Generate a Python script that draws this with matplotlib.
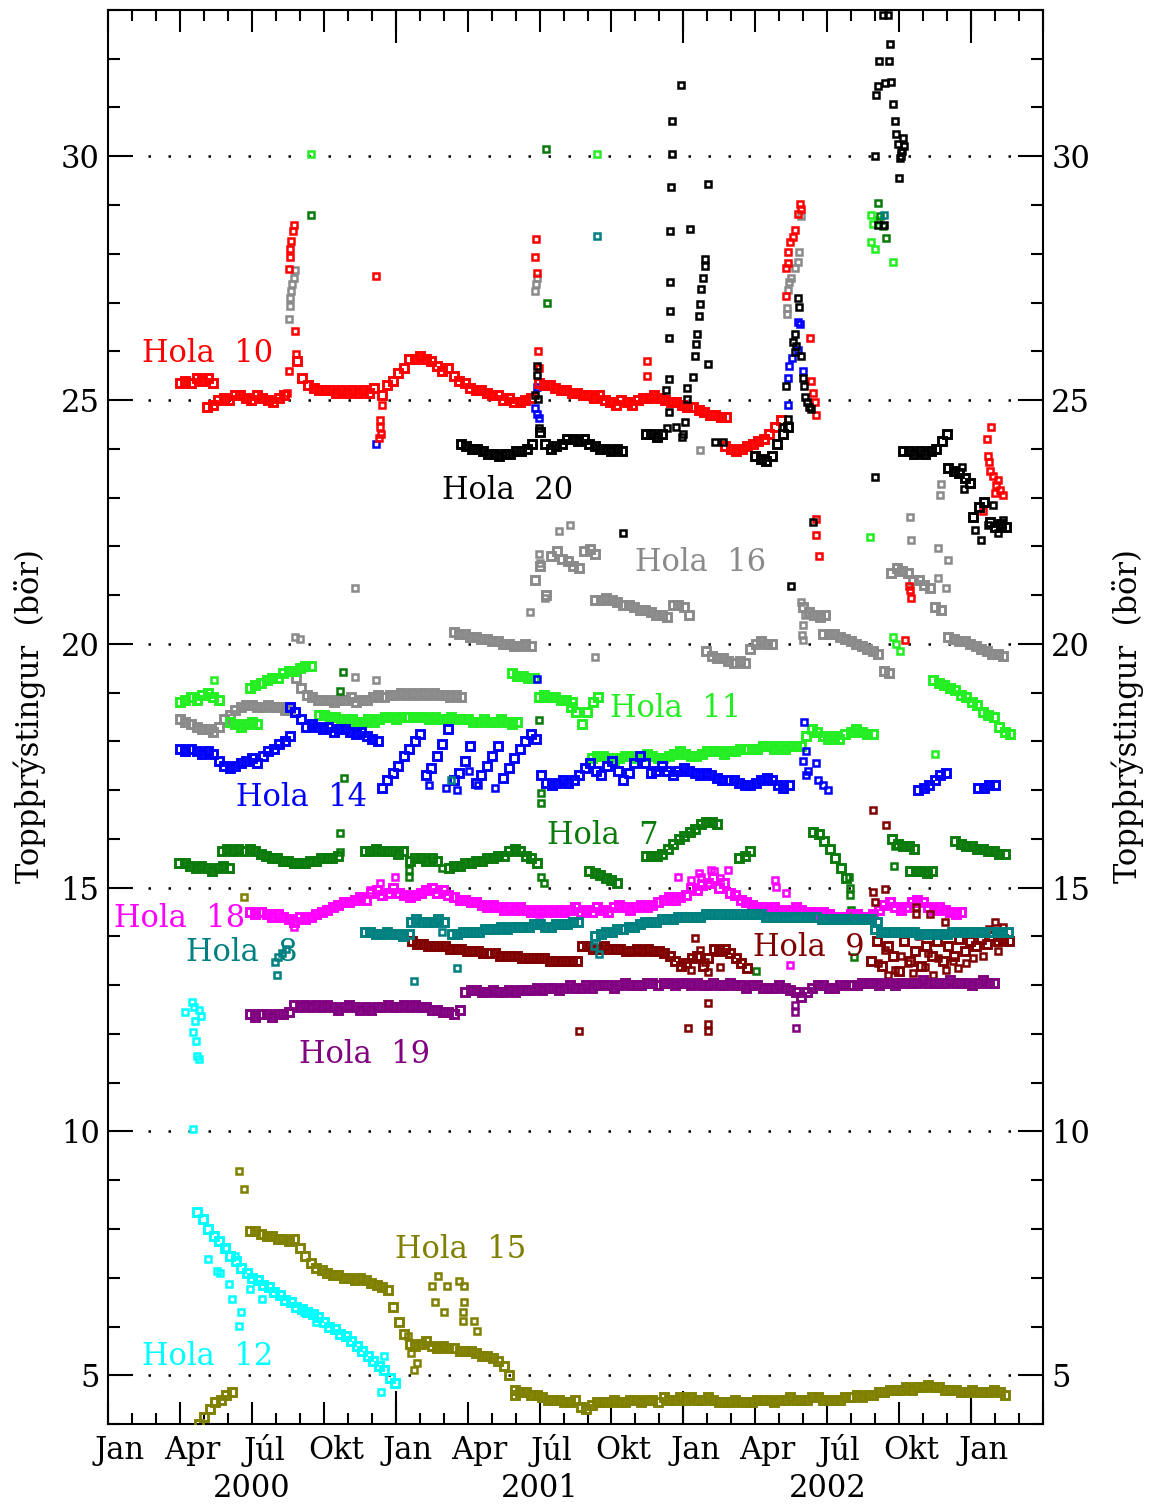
import numpy as np
import matplotlib.pyplot as plt
from matplotlib.ticker import MultipleLocator

plt.rcParams['font.family'] = 'DejaVu Serif'

# time axis: months since Jan 2000; weekly readings
WEEK = 0.23

# ---------------- Hola 10 ----------------
h10_runs = [
    (3.0, [25.35, 25.4, 25.35, 25.45, 25.4, 25.45, 25.35]),
    (4.13, [24.85, 24.9, 25.0, 25.05, 25.0, 25.1, 25.1, 25.05, 25.0, 25.1, 25.05, 25.0, 24.95, 25.05, 25.1]),
    (7.88, [25.8, 25.45, 25.3, 25.25, 25.2, 25.2, 25.2, 25.15, 25.2, 25.15, 25.2, 25.15, 25.2, 25.15, 25.25]),
    (11.42, [25.1, 25.3, 25.4, 25.55, 25.65, 25.85, 25.85, 25.9, 25.85, 25.8, 25.7, 25.6, 25.65, 25.5,
             25.4, 25.35, 25.25, 25.2, 25.2, 25.15, 25.1, 25.1, 25.0, 25.05, 24.95, 24.95, 25.0, 25.05]),
    (17.96, [25.35, 25.3, 25.3, 25.25, 25.2, 25.2, 25.15, 25.15, 25.1, 25.1, 25.05, 25.1, 25.0, 24.95,
             24.9, 25.0, 24.95, 24.9, 25.0, 25.05, 25.05, 25.1, 25.05, 25.0, 24.95, 24.95, 24.9, 24.85,
             24.85, 24.8, 24.75, 24.7, 24.7, 24.65, 24.65]),
    (25.75, [24.05, 24.0, 23.95, 24.0, 24.05, 24.1, 24.15, 24.2, 24.3, 24.45, 24.6]),
]
h10_t = [7.75, 7.71, 7.63, 7.58, 7.58, 7.54, 7.79, 7.83, 7.46, 7.54,
         11.33, 11.33, 11.38, 11.29, 11.42, 11.17,
         17.83, 17.79, 17.88, 17.92, 17.96, 22.46, 22.46,
         28.29, 28.29, 28.38, 28.46, 28.67, 28.79, 28.88, 28.92, 28.58, 28.38,
         29.29, 29.33, 29.42, 29.5, 29.54, 29.54, 29.54, 29.67,
         33.42, 33.5, 33.46, 33.25,
         36.83, 36.67, 36.71, 36.75, 36.79, 36.92, 37.04, 37.21, 37.33, 37.0, 37.13, 36.5]
h10_v = [28.59, 28.47, 28.26, 28.1, 27.93, 27.69, 26.42, 25.95, 25.15, 25.6,
         24.6, 24.45, 24.3, 24.23, 24.9, 27.55,
         28.3, 27.93, 27.6, 26.0, 25.65, 25.8, 25.5,
         27.13, 27.7, 28.04, 28.24, 28.49, 28.81, 29.02, 28.92, 28.35, 27.8,
         26.28, 25.38, 25.15, 24.95, 24.7, 22.57, 22.24, 21.8,
         21.18, 20.93, 21.1, 20.07,
         24.45, 24.2, 23.86, 23.72, 23.55, 23.45, 23.25, 23.15, 23.05, 23.1, 23.35, 22.73]

# ---------------- Hola 20 ----------------
h20_runs = [
    (14.71, [24.1, 24.05, 24.0, 24.0, 23.95, 23.9, 23.9, 23.85, 23.9, 23.9, 23.95, 23.95, 24.0, 24.1]),
    (18.0, [24.35, 24.1, 24.0, 24.05, 24.1, 24.2, 24.2, 24.15, 24.2, 24.1, 24.05, 24.0, 24.0, 23.95, 24.0, 23.95]),
    (22.42, [24.3, 24.3, 24.25, 24.3]),
    (27.0, [23.85, 23.8, 23.75, 23.85, 24.1, 24.3, 24.45]),
    (33.17, [23.95, 23.95, 23.9, 23.95, 23.9, 23.95, 24.0, 24.15, 24.3]),
    (35.04, [23.6, 23.55, 23.5, 23.4, 23.3]),
    (36.08, [22.6, 22.8, 22.9, 22.5, 22.4, 22.45, 22.4]),
]
h20_t = [17.88, 17.88, 17.79, 17.92, 17.96, 21.46,
         23.38, 23.29, 23.38, 23.38, 23.42, 23.42, 23.46, 23.5, 23.54, 23.54, 23.88, 24.29, 23.33,
         24.0, 24.08, 24.13, 24.17, 24.42, 24.5, 24.54, 24.58, 24.67, 24.71, 24.75, 24.83, 24.88,
         24.92, 25.04, 25.04, 25.33, 25.67, 23.71, 23.92,
         28.79, 28.83, 28.67, 28.58, 28.71, 28.67, 28.92, 29.0, 29.04, 29.08, 29.17, 29.25, 29.33,
         28.29, 28.38, 28.17, 29.42, 28.5,
         35.63, 35.71, 36.17, 36.42, 36.71, 36.92, 37.13, 37.33, 32.0,
         32.33, 32.54, 32.63, 32.17, 32.58, 32.04, 32.13, 32.42, 32.67, 32.75, 32.83, 32.88, 33.17,
         32.96, 33.08, 33.08, 33.04, 33.0, 32.0, 32.13, 32.38, 33.13, 33.21]
h20_v = [25.7, 25.52, 25.1, 25.03, 24.43, 22.27,
         25.44, 25.2, 24.75, 26.28, 26.82, 27.42, 28.47, 29.37, 30.04, 30.72, 31.47, 28.5, 24.42,
         24.3, 24.55, 25.03, 25.24, 25.48, 25.91, 26.15, 26.36, 26.72, 26.97, 27.27, 27.5, 27.75,
         27.9, 29.43, 25.74, 24.13, 24.13, 24.45, 24.25,
         27.1, 26.9, 26.36, 26.2, 26.1, 25.98, 25.9, 25.45, 25.28, 25.07, 24.95, 24.86, 24.82,
         25.28, 24.62, 24.45, 22.49, 21.18,
         23.63, 23.18, 22.33, 22.12, 22.43, 22.84, 22.28, 22.53, 23.43,
         32.89, 32.9, 32.3, 31.96, 31.96, 31.25, 31.45, 31.5, 31.53, 31.08, 30.73, 30.45, 30.37,
         30.25, 30.08, 30.0, 29.96, 29.55, 30.0, 28.59, 28.59, 30.1, 30.2]

# ---------------- Hola 16 ----------------
h16_runs = [
    (3.0, [18.45, 18.4, 18.35, 18.3, 18.25, 18.25, 18.2, 18.3, 18.45, 18.55, 18.65, 18.7, 18.75, 18.75,
           18.7, 18.7, 18.75, 18.7, 18.7, 18.65, 18.65, 19.3, 19.1, 18.95, 18.9, 18.85, 18.85, 18.85,
           18.8, 18.85, 18.85, 18.9, 18.8, 18.85, 18.85, 18.9, 18.95, 18.9, 18.95, 18.95, 19.0, 18.95,
           19.0, 18.95, 19.0, 18.95, 19.0, 18.95, 18.95, 18.9, 18.95, 18.9]),
    (14.42, [20.25, 20.2, 20.2, 20.15, 20.15, 20.1, 20.1, 20.05, 20.05, 20.0, 20.0, 19.95, 19.95, 20.0, 19.95]),
    (17.79, [21.3, 21.6, 21.0, 21.8, 21.9, 21.75, 21.7, 21.6, 21.55, 21.9, 21.95, 21.85]),
    (20.33, [20.9, 20.9, 20.95, 20.9, 20.85, 20.8, 20.8, 20.75, 20.7, 20.7, 20.65, 20.6, 20.6, 20.55,
             20.8, 20.8, 20.75, 20.6]),
    (24.96, [19.85, 19.75, 19.7, 19.7, 19.65, 19.6, 19.65, 19.6]),
    (26.79, [19.9, 20.0, 20.05, 20.0, 20.0]),
    (29.0, [20.75, 20.65, 20.6, 20.55, 20.6]),
    (29.83, [20.2, 20.2, 20.2, 20.15, 20.1, 20.05, 20.0, 19.95, 19.9, 19.85, 19.8, 19.45, 19.4]),
    (32.67, [21.45, 21.55, 21.5, 21.45, 21.3, 21.3, 21.2, 21.15, 20.75, 20.7]),
    (35.04, [20.15, 20.1, 20.05, 20.05, 20.0, 19.95, 19.9, 19.85, 19.8, 19.8, 19.75]),
]
h16_t = [7.79, 7.75, 7.67, 7.63, 7.58, 7.58, 7.54, 7.79, 8.0, 10.29, 11.17, 10.29,
         17.79, 17.88, 17.83, 17.96, 17.58, 18.83, 19.25, 18.21, 18.0, 20.33,
         29.0, 28.96, 29.0, 28.92, 29.08,
         28.92, 28.83, 28.79, 28.67, 28.5, 28.42, 28.38, 28.33, 28.33,
         33.46, 33.5, 34.63, 35.04, 34.63, 34.96, 34.75, 34.71, 24.71]
h16_v = [27.67, 27.5, 27.38, 27.24, 27.1, 26.93, 26.66, 20.15, 20.1, 19.32, 19.26, 21.14,
         27.24, 27.5, 27.38, 21.85, 20.65, 22.32, 22.43, 20.93, 21.65, 19.73,
         20.38, 20.18, 20.07, 20.85, 20.6,
         28.77, 28.04, 27.83, 27.71, 27.5, 27.42, 27.25, 26.88, 26.76,
         22.61, 22.12, 21.96, 21.71, 21.34, 21.14, 23.27, 23.06, 23.98]

# ---------------- Hola 11 ----------------
h11_runs = [
    (3.0, [18.8, 18.85, 18.9, 18.85, 18.95, 19.0, 18.9, 18.85]),
    (5.08, [18.4, 18.35, 18.3, 18.35, 18.4, 18.35]),
    (5.92, [19.1, 19.15, 19.2, 19.25, 19.3, 19.3, 19.4, 19.45, 19.45, 19.5, 19.55, 19.55]),
    (8.79, [18.55, 18.55, 18.5, 18.5, 18.45, 18.4, 18.45, 18.4, 18.4, 18.45, 18.4, 18.45, 18.5, 18.5,
            18.45, 18.5, 18.5, 18.5, 18.5, 18.5, 18.45, 18.5, 18.45, 18.45, 18.5, 18.45, 18.45, 18.45,
            18.4, 18.4, 18.45, 18.4, 18.4, 18.45, 18.4, 18.35, 18.4]),
    (16.83, [19.4, 19.35, 19.35, 19.3, 19.3]),
    (17.96, [18.9, 18.95, 18.9, 18.9, 18.85, 18.85, 18.8]),
    (19.29, [18.7, 18.6, 18.35, 18.6, 18.8, 18.9]),
    (20.17, [17.65, 17.7, 17.7, 17.65, 17.6, 17.65, 17.7, 17.7, 17.65, 17.7, 17.75, 17.7, 17.65, 17.65,
             17.7, 17.75, 17.8, 17.75, 17.7, 17.7, 17.75, 17.8, 17.8, 17.8, 17.75, 17.8, 17.8, 17.85,
             17.85, 17.85, 17.85, 17.9, 17.9, 17.85, 17.9, 17.85, 17.9, 17.9, 17.9]),
    (29.13, [18.1, 18.25, 18.2, 18.1, 18.05, 18.1, 18.05, 18.15, 18.2, 18.25, 18.2, 18.15, 18.15]),
    (34.42, [19.25, 19.2, 19.15, 19.1, 19.05, 18.95, 18.9, 18.8, 18.75, 18.6, 18.55, 18.5, 18.3, 18.2, 18.15]),
]
h11_t = [4.42, 32.75, 32.88, 33.04, 34.5, 8.46, 20.38, 31.79,
         31.83, 31.92, 31.83, 32.0, 32.75, 32.13]
h11_v = [19.25, 20.15, 20.0, 19.85, 17.75, 30.05, 30.05, 22.2,
         28.8, 28.6, 28.25, 28.1, 27.83, 28.7]

# ---------------- Hola 14 ----------------
h14_runs = [
    (3.0, [17.85, 17.8, 17.85, 17.8, 17.75, 17.8, 17.75, 17.6, 17.5, 17.45, 17.5, 17.55, 17.6, 17.65,
           17.55, 17.7, 17.8, 17.85, 17.95, 18.0, 18.1]),
    (7.58, [18.7, 18.6, 18.45, 18.3, 18.35, 18.3, 18.25, 18.3, 18.2, 18.25, 18.25, 18.2, 18.15, 18.2,
            18.1, 18.05, 18.0]),
    (11.42, [17.05, 17.2, 17.35, 17.5, 17.7, 17.85, 18.0, 18.15, 17.3, 17.45, 17.7, 17.95, 18.25, 17.2,
             17.35, 17.6, 17.9, 17.15, 17.3, 17.5, 17.7, 17.9, 17.25, 17.45, 17.65, 17.85, 18.0, 18.15, 18.05]),
    (18.04, [17.3, 17.15, 17.1, 17.15, 17.2, 17.15, 17.2, 17.3, 17.45, 17.55, 17.4, 17.3, 17.5, 17.6,
             17.4, 17.2, 17.35, 17.55, 17.7, 17.55, 17.35, 17.4, 17.5, 17.4, 17.3, 17.4, 17.45, 17.4,
             17.35, 17.3, 17.35, 17.3, 17.25, 17.2, 17.2, 17.2, 17.15, 17.1, 17.1, 17.15, 17.2, 17.25,
             17.2, 17.1, 17.05, 17.1]),
    (33.79, [17.0, 17.05, 17.1, 17.2, 17.3, 17.35]),
    (36.29, [17.05, 17.05, 17.1, 17.1]),
]
h14_t = [14.08, 14.54, 15.42, 16.13, 13.38, 15.04,
         29.13, 29.0, 29.21, 29.13, 29.54, 29.63, 29.83, 30.04, 29.04,
         17.88, 17.79, 17.88, 17.96, 28.38, 28.38, 28.42, 28.54, 28.79, 28.88, 28.79, 29.0,
         11.17, 17.88]
h14_v = [17.05, 17.0, 17.1, 17.05, 17.1, 17.4,
         17.8, 17.6, 17.4, 17.3, 17.55, 17.2, 17.1, 17.0, 18.4,
         25.27, 24.83, 24.72, 24.64, 24.9, 25.45, 25.69, 25.87, 26.03, 26.56, 26.6, 25.6,
         24.1, 19.28]

# ---------------- Hola 7 ----------------
h7_runs = [
    (2.96, [15.5, 15.5, 15.45, 15.4, 15.45, 15.4, 15.35, 15.4, 15.45, 15.4]),
    (4.75, [15.75, 15.8, 15.75, 15.8, 15.75, 15.8, 15.75, 15.7, 15.65, 15.6, 15.6, 15.55, 15.55, 15.5,
            15.5, 15.5, 15.55, 15.55, 15.6, 15.6, 15.6, 15.65]),
    (10.71, [15.75, 15.75, 15.8, 15.75, 15.75, 15.75, 15.7, 15.75]),
    (12.58, [15.55, 15.6, 15.6, 15.55, 15.6, 15.55]),
    (14.21, [15.4, 15.45, 15.45, 15.5, 15.5, 15.55, 15.55, 15.6, 15.6, 15.65, 15.65, 15.75, 15.8, 15.75,
             15.65, 15.6, 15.5]),
    (20.08, [15.35, 15.3, 15.25, 15.2, 15.15, 15.1]),
    (22.42, [15.65, 15.65, 15.65, 15.7, 15.8, 15.9, 16.0, 16.05, 16.15, 16.2, 16.3, 16.35, 16.35, 16.3]),
    (26.33, [15.6, 15.65, 15.75]),
    (29.42, [16.15, 16.1, 15.95, 15.8, 15.6, 15.4, 15.2]),
    (32.71, [16.0, 15.9, 15.85, 15.85, 15.8]),
    (33.46, [15.35, 15.35, 15.35, 15.3, 15.35]),
    (35.33, [15.95, 15.9, 15.85, 15.85, 15.8, 15.8, 15.75, 15.75, 15.7, 15.7]),
]
h7_t = [9.67, 9.67, 12.54, 12.54, 13.92, 18.08, 18.17,
        30.92, 30.96, 30.96, 31.0, 32.83, 32.79,
        9.79, 9.67, 9.83, 17.96, 18.04, 18.04, 8.46, 18.29, 18.25,
        32.13, 32.21, 32.33, 32.46, 27.04, 31.13]
h7_v = [16.12, 15.74, 15.22, 15.37, 15.41, 15.22, 15.1,
        15.22, 15.0, 14.85, 14.55, 15.86, 15.45,
        19.42, 19.03, 17.25, 18.44, 16.95, 16.74, 28.8, 27.0, 30.15,
        29.04, 28.77, 28.57, 28.32, 13.3, 13.57]

# ---------------- Hola 18 ----------------
h18_runs = [
    (5.92, [14.5, 14.45, 14.5, 14.45, 14.4, 14.45, 14.4, 14.35, 14.3, 14.4, 14.35, 14.4, 14.45, 14.5,
            14.55, 14.6, 14.65, 14.7, 14.7, 14.75, 14.8, 14.75, 14.9, 14.95, 14.85, 14.9, 15.0, 14.9,
            14.85, 14.8, 14.85, 14.9, 14.95, 15.0, 14.9, 14.95, 14.85, 14.8, 14.75, 14.75, 14.7, 14.7,
            14.65, 14.6, 14.65, 14.6, 14.55, 14.6, 14.55, 14.6, 14.55, 14.5, 14.55, 14.5, 14.55, 14.5,
            14.55, 14.5, 14.55, 14.6, 14.5, 14.55, 14.5, 14.6, 14.55, 14.5, 14.6, 14.65, 14.6, 14.55,
            14.6, 14.65, 14.6, 14.65, 14.7, 14.75, 14.8, 14.75, 14.8, 14.85, 15.0, 14.95, 15.05, 15.1,
            15.2, 15.0, 15.1, 14.9, 14.85, 14.75, 14.7, 14.65, 14.6, 14.6, 14.55, 14.6, 14.55, 14.5,
            14.55, 14.6, 14.55, 14.5, 14.5, 14.45, 14.5, 14.45, 14.4, 14.4, 14.4, 14.45, 14.45, 14.4,
            14.4, 14.45, 14.55, 14.65, 14.7, 14.6, 14.55, 14.6, 14.7, 14.75, 14.7, 14.6, 14.55, 14.6,
            14.55, 14.5, 14.45, 14.5]),
]
h18_t = [23.79, 24.33, 24.75, 25.17, 25.88, 25.04, 27.83, 27.88, 28.29, 11.96, 11.33, 10.92,
         7.75, 28.46, 17.96, 25.29, 25.54, 24.63]
h18_v = [15.22, 15.16, 15.22, 15.37, 15.37, 15.1, 15.16, 15.02, 14.9, 15.22, 15.1, 14.96,
         14.2, 13.42, 14.3, 15.35, 15.2, 15.3]

# ---------------- Hola 8 ----------------
h8_runs = [
    (10.71, [14.1, 14.1, 14.05, 14.05, 14.1, 14.05, 14.05, 14.0, 14.05]),
    (12.63, [14.3, 14.35, 14.3, 14.3, 14.3, 14.35, 14.3]),
    (14.33, [14.05, 14.05, 14.1, 14.1, 14.1, 14.1, 14.15, 14.15, 14.15, 14.2, 14.15, 14.2, 14.2, 14.2,
             14.2, 14.25, 14.25, 14.2, 14.2, 14.25, 14.25, 14.25, 14.3, 14.3]),
    (20.33, [14.0, 14.05, 14.1, 14.1, 14.15, 14.15, 14.2, 14.2, 14.25, 14.3, 14.3, 14.3, 14.35, 14.35,
             14.35, 14.4, 14.4, 14.4, 14.4, 14.4, 14.45, 14.45, 14.45, 14.45, 14.45, 14.45, 14.45, 14.45,
             14.45, 14.45, 14.45, 14.4, 14.4, 14.4, 14.4, 14.4, 14.4, 14.4, 14.4, 14.4, 14.4, 14.35,
             14.35, 14.35, 14.35, 14.35, 14.35, 14.35, 14.35, 14.35, 14.35, 14.3]),
    (32.0, [14.15, 14.1, 14.1, 14.1, 14.1, 14.1, 14.1, 14.1, 14.05, 14.05, 14.05, 14.05, 14.05, 14.05,
            14.1, 14.1, 14.1, 14.1, 14.1, 14.1, 14.1, 14.1, 14.1, 14.1, 14.1]),
]
h8_t = [6.96, 7.08, 7.25, 7.42, 7.04, 13.92, 14.54, 20.46, 12.75, 14.29, 20.38, 32.38, 20.29]
h8_v = [13.48, 13.58, 13.67, 13.75, 13.2, 14.1, 13.36, 13.63, 13.08, 17.2, 28.37, 28.8, 13.8]

# ---------------- Hola 9 ----------------
h9_runs = [
    (12.67, [13.9, 13.85, 13.85, 13.8, 13.8, 13.8, 13.8, 13.75, 13.75, 13.75, 13.7, 13.7, 13.7, 13.65,
             13.65, 13.65, 13.6, 13.6, 13.6, 13.6, 13.55, 13.55, 13.55, 13.55, 13.55, 13.5, 13.5, 13.5,
             13.5, 13.5, 13.5]),
    (19.75, [13.8, 13.8, 13.75, 13.75, 13.8, 13.75, 13.75, 13.75, 13.7, 13.7, 13.75, 13.7, 13.75, 13.7,
             13.7, 13.65, 13.6, 13.5, 13.4, 13.45, 13.55, 13.6, 13.4, 13.55, 13.75, 13.7, 13.75, 13.65,
             13.55, 13.45, 13.35]),
    (31.83, [13.5, 13.9, 13.4, 13.8, 13.6, 13.3, 13.9, 13.5, 13.7, 13.4, 13.8, 13.6, 13.9, 13.5, 13.8,
             13.6, 13.95, 13.7, 13.9, 13.8, 13.95, 13.85, 14.0, 13.9, 13.95, 13.9]),
]
h9_t = [24.5, 24.71, 24.92, 24.33, 25.04, 25.54, 25.04, 19.63, 24.21, 25.04, 25.04,
        31.92, 32.42, 32.0, 33.71, 33.71, 34.29, 34.92, 37.0, 32.13, 32.83, 33.38, 34.08, 34.96,
        35.79, 33.08, 34.21, 32.42, 31.92, 32.46,
        34.63, 35.46, 36.5, 37.13, 32.54, 33.58, 34.42, 35.25, 36.08, 33.83, 34.88, 35.71, 36.75, 37.33]
h9_v = [13.97, 13.73, 13.47, 13.32, 13.28, 13.38, 12.64, 12.05, 12.13, 12.2, 12.05,
        14.92, 14.98, 14.7, 14.6, 14.45, 14.45, 14.3, 14.3, 13.46, 13.32, 13.46, 13.38, 13.32,
        13.46, 13.59, 13.67, 13.73, 16.59, 16.29,
        13.55, 13.35, 13.6, 13.7, 13.2, 13.25, 13.2, 13.5, 13.55, 14.0, 14.05, 14.1, 14.15, 14.2]

# ---------------- Hola 19 ----------------
h19_runs = [
    (5.92, [12.4, 12.35, 12.4, 12.4, 12.35, 12.4, 12.4, 12.45, 12.6, 12.55, 12.6, 12.55, 12.6, 12.55,
            12.6, 12.55, 12.5, 12.55, 12.6, 12.55, 12.5, 12.55, 12.5, 12.55, 12.55, 12.6, 12.55, 12.55,
            12.6, 12.55, 12.6, 12.55, 12.55, 12.5, 12.5, 12.45, 12.45, 12.4, 12.5, 12.85, 12.9, 12.9,
            12.85, 12.85, 12.9, 12.85, 12.85, 12.9, 12.85, 12.9, 12.9, 12.9, 12.95, 12.9, 12.95, 12.95,
            12.9, 12.95, 13.0, 12.95, 12.95, 13.0, 12.95, 13.0, 13.0, 13.0, 12.95, 13.0, 13.05, 13.0,
            13.0, 13.0, 13.05, 13.05, 13.0, 13.05, 13.05, 13.0, 13.05, 13.05, 13.0, 13.05, 13.0, 13.0,
            13.05, 13.0, 13.0, 13.05, 13.0, 13.0, 12.95, 13.0, 13.0, 12.95, 12.95, 12.95, 13.0, 12.95,
            12.9, 12.85, 12.75, 12.85, 12.95, 13.0, 13.0, 12.95, 12.95, 13.0, 13.0, 13.0, 13.0, 13.05,
            13.05, 13.05, 13.0, 13.05, 13.05, 13.0, 13.05, 13.05, 13.05, 13.05, 13.1, 13.05, 13.05,
            13.05, 13.05, 13.1, 13.05, 13.05, 13.05, 13.0, 13.05, 13.1, 13.05, 13.05]),
]
h19_t = [28.67, 28.67, 28.71]
h19_v = [12.6, 12.45, 12.13]

# ---------------- Hola 15 ----------------
h15_runs = [
    (3.79, [4.0, 4.15, 4.3, 4.45, 4.5, 4.6, 4.65]),
    (5.92, [7.95, 7.95, 7.9, 7.85, 7.85, 7.8, 7.8, 7.75, 7.8, 7.6, 7.45, 7.3, 7.2, 7.15, 7.1, 7.05, 7.05,
            7.0, 7.0, 6.95, 7.0, 6.95, 6.9, 6.85, 6.8, 6.75, 6.4, 6.1, 5.85, 5.65, 5.6, 5.65, 5.7, 5.6,
            5.55, 5.6, 5.55, 5.55, 5.5, 5.5, 5.5, 5.45, 5.4, 5.4, 5.35, 5.3, 5.2, 5.0, 4.6]),
    (16.96, [4.7, 4.65, 4.65, 4.6, 4.6, 4.55, 4.5, 4.5, 4.5, 4.45, 4.45, 4.5, 4.35, 4.3, 4.4, 4.45, 4.45,
             4.45, 4.5, 4.45, 4.45, 4.5, 4.5, 4.45, 4.5, 4.5, 4.45, 4.55, 4.5, 4.5, 4.55, 4.5, 4.55, 4.5,
             4.5, 4.55, 4.5, 4.45, 4.45, 4.45, 4.5, 4.45, 4.45, 4.45, 4.5, 4.5, 4.5, 4.45, 4.5, 4.5,
             4.55, 4.5, 4.5, 4.5, 4.55, 4.55, 4.5, 4.5, 4.5, 4.5, 4.55, 4.55, 4.6, 4.55, 4.6, 4.6, 4.65,
             4.65, 4.7, 4.7, 4.7, 4.75, 4.7, 4.75, 4.75, 4.8, 4.75, 4.75, 4.7, 4.7, 4.7, 4.65, 4.65, 4.7,
             4.65, 4.65, 4.65, 4.7, 4.65, 4.6]),
]
h15_t = [5.46, 5.67, 13.5, 13.75, 14.13, 14.63, 14.83, 13.63, 14.0, 14.83, 14.79, 15.25, 14.79,
         15.38, 12.75, 12.88, 12.63, 12.5, 5.67]
h15_v = [9.18, 8.82, 6.83, 7.03, 6.83, 6.93, 6.83, 6.5, 6.3, 6.5, 6.3, 6.12, 6.12,
         5.9, 5.1, 5.25, 5.45, 5.8, 14.8]

# ---------------- Hola 12 ----------------
h12_runs = [
    (3.71, [8.35, 8.2, 8.0, 7.85, 7.75, 7.6, 7.45, 7.35, 7.2, 7.1, 7.0, 6.95, 6.85, 6.8, 6.7, 6.65, 6.55,
            6.5, 6.4, 6.35, 6.3, 6.25, 6.2, 6.1, 6.0, 5.95, 5.85, 5.8, 5.7, 5.6, 5.5, 5.4, 5.3, 5.2, 5.1,
            4.95, 4.85]),
]
h12_t = [3.21, 3.5, 3.58, 3.79, 3.88, 3.63, 3.54, 3.67, 3.71, 3.79, 3.54,
         4.17, 4.54, 4.67, 5.04, 5.17, 5.54, 5.46, 4.92, 5.29, 5.92, 6.42, 8.17, 8.67, 11.38, 11.5]
h12_v = [12.45, 12.66, 12.56, 12.5, 12.36, 12.26, 12.03, 11.85, 11.54, 11.48, 10.05,
         7.38, 7.14, 7.1, 6.88, 6.57, 6.3, 6.02, 7.6, 7.45, 6.77, 6.57, 6.3, 6.1, 4.66, 5.4]

# label text, colour, label anchor (month, value) per well
wells = [
    ('Hola  16', '#8a8a8a', h16_runs, h16_t, h16_v, 21.96, 21.49),
    ('Hola  11', '#22ee22', h11_runs, h11_t, h11_v, 20.92, 18.5),
    ('Hola  14', '#0000ff', h14_runs, h14_t, h14_v, 5.33, 16.68),
    ('Hola  7', '#0a7a0a', h7_runs, h7_t, h7_v, 18.33, 15.9),
    ('Hola  18', '#ff00ff', h18_runs, h18_t, h18_v, 0.25, 14.2),
    ('Hola  9', '#800000', h9_runs, h9_t, h9_v, 26.92, 13.59),
    ('Hola  8', '#008080', h8_runs, h8_t, h8_v, 3.25, 13.5),
    ('Hola  19', '#800080', h19_runs, h19_t, h19_v, 7.96, 11.4),
    ('Hola  15', '#808000', h15_runs, h15_t, h15_v, 11.96, 7.4),
    ('Hola  12', '#00ffff', h12_runs, h12_t, h12_v, 1.42, 5.21),
    ('Hola  10', '#ff0000', h10_runs, h10_t, h10_v, 1.42, 25.78),
    ('Hola  20', '#000000', h20_runs, h20_t, h20_v, 13.92, 22.98),
]

FS = 22

fig = plt.figure(figsize=(11.52, 15.05), dpi=100)
ax = fig.add_axes([0.0938, 0.0538, 0.8116, 0.9396])

for name, col, runs, pt_t, pt_v, lx, ly in wells:
    # continuous weekly runs: heavier squares so the series reads as a band
    for start, vals in runs:
        ax.plot(start + WEEK * np.arange(len(vals)), vals, 's', ms=6.2, mfc='none',
                mec=col, mew=2.1, zorder=3)
    # isolated readings
    ax.plot(pt_t, pt_v, 's', ms=4.8, mfc='none', mec=col, mew=1.8, zorder=3)
    ax.text(lx, ly, name, color=col, fontsize=FS, ha='left', va='baseline', zorder=5)

ax.set_xlim(0, 39)
ax.set_ylim(4, 33)

# dotted reference lines
for lev in range(5, 31, 5):
    ax.axhline(lev, xmin=0.043, xmax=0.972, color='k', lw=1.8,
               ls=(0, (1, 7)), dash_capstyle='butt', zorder=1)

ax.xaxis.set_major_locator(MultipleLocator(3))
ax.xaxis.set_minor_locator(MultipleLocator(1))
ax.yaxis.set_major_locator(MultipleLocator(5))
ax.yaxis.set_minor_locator(MultipleLocator(1))
ax.tick_params(axis='x', which='major', direction='in', length=16, width=1.5,
               top=True, bottom=True, labelbottom=False)
ax.tick_params(axis='x', which='minor', direction='in', length=8, width=1.5,
               top=True, bottom=True)
ax.tick_params(axis='y', which='major', direction='in', length=18, width=1.5,
               left=True, right=True, labelleft=True, labelright=True,
               labelsize=FS, pad=6)
ax.tick_params(axis='y', which='minor', direction='in', length=8.5, width=1.5,
               left=True, right=True)
for sp in ax.spines.values():
    sp.set_linewidth(1.5)

# longer ticks at each new year
xt = ax.get_xaxis_transform()
ax.vlines([12, 24, 36], 0, 0.0235, transform=xt, colors='k', lw=1.5)
ax.vlines([12, 24, 36], 1 - 0.0235, 1, transform=xt, colors='k', lw=1.5)

months = ['Jan', 'Apr', 'Júl', 'Okt'] * 3 + ['Jan']
for i, m in enumerate(months):
    ax.text(3 * i + 0.5, -0.0185, m, transform=xt, ha='center', va='center', fontsize=FS)
for yr, pos in [('2000', 6.0), ('2001', 18.0), ('2002', 30.0)]:
    ax.text(pos, -0.0455, yr, transform=xt, ha='center', va='center', fontsize=FS)

fig.text(0.026, 0.524, 'Toppþrýstingur  (bör)', rotation=90, ha='center', va='center', fontsize=FS)
fig.text(0.979, 0.524, 'Toppþrýstingur  (bör)', rotation=90, ha='center', va='center', fontsize=FS)

fig.savefig('out.png', dpi=100)
